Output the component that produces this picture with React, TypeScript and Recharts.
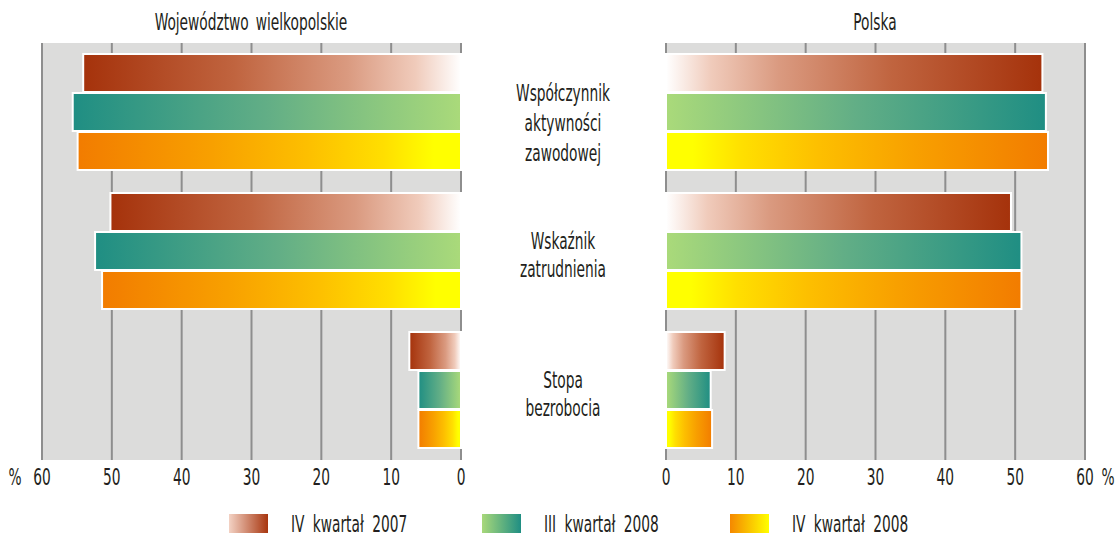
import { BarChart, Bar, XAxis, YAxis, CartesianGrid } from "recharts";

const categories = ["Współczynnik aktywności zawodowej", "Wskaźnik zatrudnienia", "Stopa bezrobocia"];
const xTicks = [0, 10, 20, 30, 40, 50, 60];

// Województwo wielkopolskie
const wlkpQ4_2007 = [54.1, 50.2, 7.4];
const wlkpQ3_2008 = [55.6, 52.4, 6.1];
const wlkpQ4_2008 = [54.9, 51.4, 6.1];

// Polska
const plQ4_2007 = [53.9, 49.4, 8.4];
const plQ3_2008 = [54.4, 50.9, 6.4];
const plQ4_2008 = [54.7, 50.9, 6.6];

const series = [
  { key: "q4_2007", name: "IV kwartał 2007" },
  { key: "q3_2008", name: "III kwartał 2008" },
  { key: "q4_2008", name: "IV kwartał 2008" },
];

const wlkpData = categories.map((name, i) => ({
  name,
  q4_2007: wlkpQ4_2007[i],
  q3_2008: wlkpQ3_2008[i],
  q4_2008: wlkpQ4_2008[i],
}));

const plData = categories.map((name, i) => ({
  name,
  q4_2007: plQ4_2007[i],
  q3_2008: plQ3_2008[i],
  q4_2008: plQ4_2008[i],
}));

// stops listed from the outer (value) end of the bar to the baseline
const ramps: Record<string, [number, string][]> = {
  q4_2007: [[0, "#a5320b"], [0.4, "#c0643f"], [0.7, "#da9a80"], [0.88, "#f0cbbb"], [1, "#ffffff"]],
  q3_2008: [[0, "#1f8e83"], [0.5, "#62ae86"], [1, "#aada7a"]],
  q4_2008: [[0, "#f27c00"], [0.35, "#f8a000"], [0.6, "#fdbf00"], [0.8, "#ffdf00"], [0.93, "#ffff00"], [1, "#ffff00"]],
};

const legendRamps: Record<string, [string, string]> = {
  q4_2007: ["#f3d2c4", "#a8360f"],
  q3_2008: ["#a8d87a", "#1f8e83"],
  q4_2008: ["#f58800", "#ffff00"],
};

const FONT = "'DejaVu Sans Condensed', 'DejaVu Sans', sans-serif";
const TEXT = "#231f20";
const FS = 23;
const SX = 0.665;

// condensed-looking text: DejaVu squeezed horizontally
const Txt = ({ x, y, anchor = "middle", children, ws = 0 }: any) => (
  <text transform={`translate(${x},${y}) scale(${SX},1)`} textAnchor={anchor} dy="0.35em"
    fontFamily={FONT} fontSize={FS} fill={TEXT} style={{ wordSpacing: ws }}>
    {children}
  </text>
);

const Gradients = ({ prefix, flip }: { prefix: string; flip: boolean }) => (
  <defs>
    {series.map((s) => {
      const stops = flip ? ramps[s.key].map(([o, c]) => [1 - o, c] as [number, string]).reverse() : ramps[s.key];
      return (
        <linearGradient key={s.key} id={`${prefix}-${s.key}`} x1="0" y1="0" x2="1" y2="0">
          {stops.map(([o, c], i) => (
            <stop key={i} offset={o} stopColor={c} />
          ))}
        </linearGradient>
      );
    })}
  </defs>
);

const NumTick = ({ x, y, payload }: any) => <Txt x={x} y={y + 9}>{payload.value}</Txt>;

const CategoryTick = ({ y, payload }: any) => {
  const lines = String(payload.value).split(" ");
  const lh = lines.length > 2 ? 30 : 28;
  const shift = lines.length > 2 ? 10 : 3;
  const start = y + shift - ((lines.length - 1) * lh) / 2;
  return (
    <g>
      {lines.map((l, i) => (
        <Txt key={i} x={83} y={start + i * lh}>{l}</Txt>
      ))}
    </g>
  );
};

const App = () => (
  <div style={{ position: "absolute", left: 0, top: 0, width: 1117, height: 534, background: "#fff" }}>
    <div style={{ position: "absolute", left: 0, top: 0 }}>
      <BarChart width={480} height={500} data={wlkpData} layout="vertical" barCategoryGap={11} barGap={1}
        margin={{ top: 43, right: 19, left: 42, bottom: 0 }}>
        <Gradients prefix="l" flip={false} />
        <CartesianGrid horizontal={false} stroke="#8e8e8e" strokeWidth={2} fill="#dcdcdb" fillOpacity={1} />
        <XAxis type="number" domain={[0, 60]} ticks={xTicks} reversed axisLine={false} tickLine={false} height={40} tick={<NumTick />} interval={0} />
        <YAxis type="category" dataKey="name" hide />
        {series.map((s) => (
          <Bar key={s.key} dataKey={s.key} fill={`url(#l-${s.key})`} stroke="#fff" strokeWidth={2} isAnimationActive={false} />
        ))}
      </BarChart>
    </div>
    <div style={{ position: "absolute", left: 480, top: 0 }}>
      <BarChart width={637} height={500} data={plData} layout="vertical" barCategoryGap={11} barGap={1}
        margin={{ top: 43, right: 32, left: 0, bottom: 0 }}>
        <Gradients prefix="r" flip />
        <CartesianGrid horizontal={false} stroke="#8e8e8e" strokeWidth={2} fill="#dcdcdb" fillOpacity={1} />
        <XAxis type="number" domain={[0, 60]} ticks={xTicks} axisLine={false} tickLine={false} height={40} tick={<NumTick />} interval={0} />
        <YAxis type="category" dataKey="name" width={186} axisLine={false} tickLine={false} tick={<CategoryTick />} interval={0} />
        {series.map((s) => (
          <Bar key={s.key} dataKey={s.key} fill={`url(#r-${s.key})`} stroke="#fff" strokeWidth={2} isAnimationActive={false} />
        ))}
      </BarChart>
    </div>
    <svg width={1117} height={534} style={{ position: "absolute", left: 0, top: 0, pointerEvents: "none" }}>
      <defs>
        {series.map((s) => (
          <linearGradient key={s.key} id={`lg-${s.key}`} x1="0" y1="0" x2="1" y2="0">
            <stop offset={0} stopColor={legendRamps[s.key][0]} />
            <stop offset={1} stopColor={legendRamps[s.key][1]} />
          </linearGradient>
        ))}
      </defs>
      <Txt x={251} y={22} ws={4}>Województwo wielkopolskie</Txt>
      <Txt x={875} y={22}>Polska</Txt>
      <Txt x={15} y={477}>%</Txt>
      <Txt x={1108} y={477}>%</Txt>
      {series.map((s, i) => {
        const x = [229, 482, 730][i];
        return (
          <g key={s.key}>
            <rect x={x} y={514} width={39} height={19} fill={`url(#lg-${s.key})`} />
            <Txt x={x + 62} y={523.5} anchor="start" ws={6}>{s.name}</Txt>
          </g>
        );
      })}
    </svg>
  </div>
);

export default App;
